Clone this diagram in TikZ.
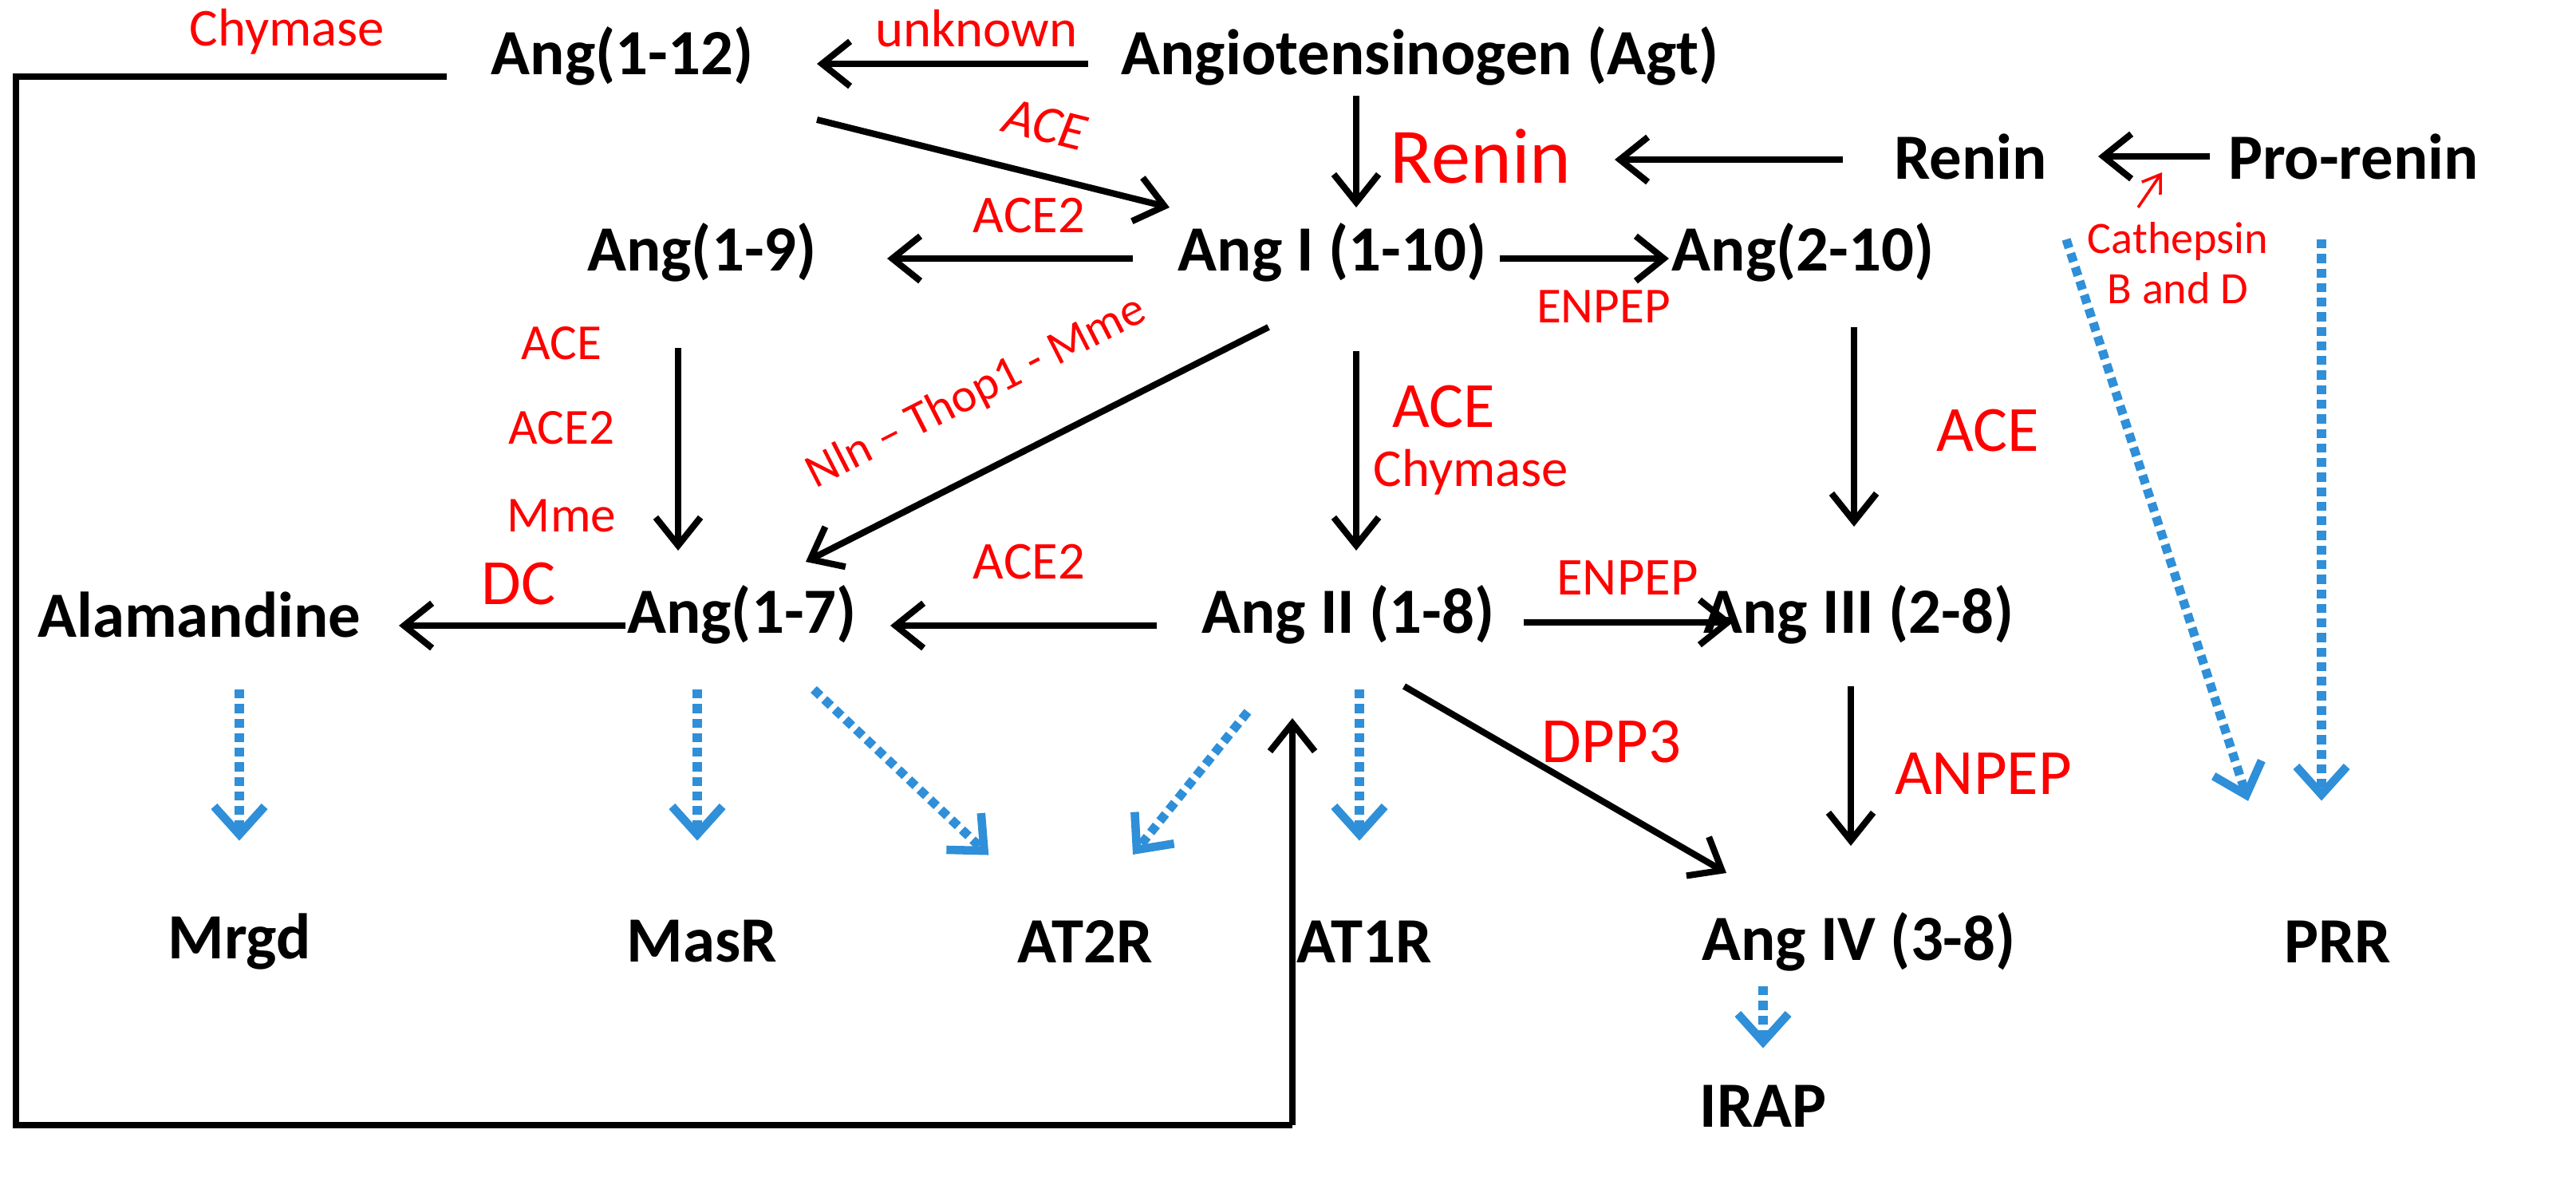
\documentclass[tikz,border=0pt]{standalone}
\usepackage{fontspec}
\setmainfont{Carlito}
\usetikzlibrary{arrows.meta}
\definecolor{bl}{HTML}{2F8FD8}
\newcommand{\fs}[1]{\fontsize{#1}{#1}\selectfont}
\begin{document}
\begin{tikzpicture}[x=0.02cm,y=-0.02cm,
 n/.style={font=\bfseries\fs{23},inner sep=0pt},
 r/.style={text=red,font=\fs{17},inner sep=1pt,align=center},
 R/.style={text=red,font=\fs{23},inner sep=1pt},
 a/.style={line width=2.3pt,-{Straight Barb[length=10pt,width=16pt,line width=2.3pt]}},
 d/.style={bl,line width=3.2pt,dotted,-{Straight Barb[length=10pt,width=18pt,line width=3pt,sep]}}]
\useasboundingbox (0,0) rectangle (1614.5,737.5);
\node[n] (a12) at (390,35) {Ang(1-12)};
\node[n] (agt) at (890,35) {Angiotensinogen (Agt)};
\node[n] (ren) at (1235,98) {Renin};
\node[n] (pro) at (1475,98) {Pro-renin};
\node[n] (a19) at (440,158) {Ang(1-9)};
\node[n] (a1) at (835,158) {Ang I (1-10)};
\node[n] (a210) at (1130,158) {Ang(2-10)};
\node[n] (ala) at (125,385) {Alamandine};
\node[n] (a17) at (465,385) {Ang(1-7)};
\node[n] (a2) at (845,385) {Ang II (1-8)};
\node[n] (a3) at (1165,385) {Ang III (2-8)};
\node[n] (mrgd) at (150,590) {Mrgd};
\node[n] (masr) at (440,590) {MasR};
\node[n] (at2r) at (680,590) {AT2R};
\node[n] (at1r) at (855,590) {AT1R};
\node[n] (a4) at (1165,590) {Ang IV (3-8)};
\node[n] (prr) at (1465,590) {PRR};
\node[n] (irap) at (1105,693) {IRAP};
\coordinate (c1) at (280,48); \coordinate (c2) at (10,48);
\coordinate (c3) at (10,705); \coordinate (c4) at (810,705);
\draw[a] (682,40) -- (512,40);
\node[r,font=\fs{19}] at (612,18) {unknown};
\draw[a] (512,75) -- (733,130);
\node[r,rotate=-14,font=\itshape\fs{19}] at (655,78) {ACE};
\draw[a] (850,60) -- (850,130);
\node[R,font=\fs{28}] at (928,98) {Renin};
\draw[a] (1155,100) -- (1012,100);
\draw[a] (1385,98) -- (1315,98);
\draw[red,line width=1pt,-{Straight Barb[length=6pt,width=8pt]}] (1340,130) -- (1355,108);
\node[r,font=\fs{16}] at (1365,165) {Cathepsin\\[2pt]B and D};
\draw[a] (710,162) -- (556,162);
\node[r,font=\fs{19}] at (645,135) {ACE2};
\draw[a] (940,162) -- (1046,162);
\node[r,font=\fs{18}] at (1005,192) {ENPEP};
\draw[line width=2.3pt] (c1) -- (c2) -- (c3) -- (c4);
\draw[a] (c4) -- (810,450);
\node[r,font=\fs{19}] at (180,20) {Chymase};
\draw[a] (425,218) -- (425,345);
\node[r,font=\fs{18}] at (352,215) {ACE};
\node[r,font=\fs{18}] at (352,268) {ACE2};
\node[r,font=\fs{18}] at (352,323) {Mme};
\draw[a] (795,205) -- (505,352);
\node[r,rotate=27,font=\fs{17}] at (612,246) {Nln – Thop1 - Mme};
\draw[a] (850,220) -- (850,345);
\node[R] at (905,255) {ACE};
\node[r,font=\fs{19}] at (922,296) {Chymase};
\draw[a] (1162,205) -- (1162,330);
\node[R] at (1246,270) {ACE};
\draw[a] (725,392) -- (558,392);
\node[r,font=\fs{19}] at (645,352) {ACE2};
\draw[a] (392,392) -- (250,392);
\node[R] at (325,366) {DC};
\draw[a] (955,390) -- (1086,390);
\node[r,font=\fs{19}] at (1020,362) {ENPEP};
\draw[a] (1160,430) -- (1160,530);
\node[R] at (1243,485) {ANPEP};
\draw[a] (880,430) -- (1082,547);
\node[R] at (1010,465) {DPP3};
\draw[d] (150,432) -- (150,530);
\draw[d] (437,432) -- (437,530);
\draw[d] (510,432) -- (622,538);
\draw[d] (782,446) -- (708,538);
\draw[d] (852,432) -- (852,530);
\draw[d] (1295,150) -- (1410,505);
\draw[d] (1455,150) -- (1455,505);
\draw[d] (1105,618) -- (1105,660);
\end{tikzpicture}
\end{document}
